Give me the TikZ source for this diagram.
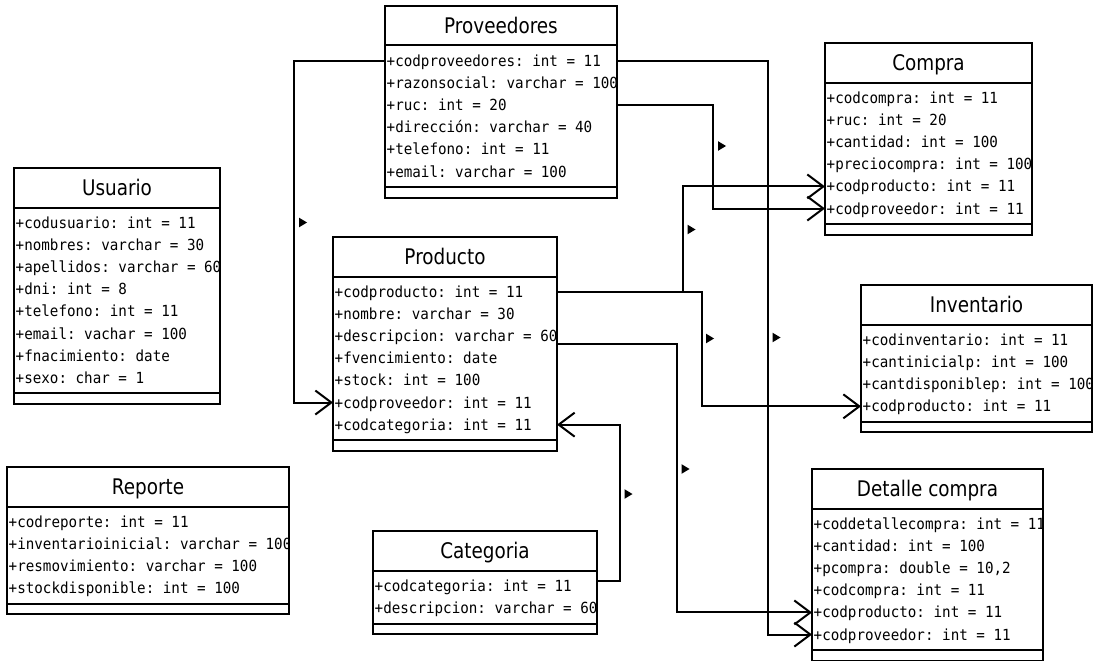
\documentclass[tikz,border=0pt]{standalone}
\usepackage{fontspec}
\newfontfamily\attrfont[FakeStretch=0.93]{DejaVu Sans Mono}
\newfontfamily\titlefont[FakeStretch=0.855]{DejaVu Sans}
\usetikzlibrary{arrows.meta}

\tikzset{
  classbox/.style={fill=white, inner sep=0pt, outer sep=0pt},
  classrule/.style={draw=black, line width=2pt},
  classtitle/.style={font=\titlefont\fontsize{21.5}{24}\selectfont, inner sep=0pt, text height=15.7pt, text depth=0pt},
  classattr/.style={font=\attrfont\fontsize{15.3}{18}\selectfont\frenchspacing, inner sep=0pt, text height=11pt, text depth=0pt, anchor=west},
  assoc/.style={draw=black, line width=2pt, -{Straight Barb[length=16pt,width=24pt]}},
  dirmark/.pic={\fill (-3.5,-4.8) -- (4.5,0) -- (-3.5,4.8) -- cycle;}
}

% \umlclass{name}{left}{top}{width}{title}{rows}{attributes}
\newcommand\umlclass[7]{%
  \pgfmathsetmacro\clsep{#3+39.5}%
  \pgfmathsetmacro\clbot{\clsep+#6*22.1+9}%
  \pgfmathsetmacro\clend{\clbot+10.5}%
  \pgfmathsetmacro\clheight{\clend-#3}%
  \node[classbox, anchor=north west, minimum width=#4pt, minimum height=\clheight pt] (#1) at (#2,#3) {};
  \node[classtitle] (#1-title) at ({#2+#4/2},{(#3+\clsep)/2}) {#5};
  \begin{scope}
    \clip (#2,#3) rectangle ({#2+#4},\clend);
    \foreach \attr [count=\k] in {#7}
      \node[classattr] (#1-\k) at ({#2+1.5},{\clsep+15.55+(\k-1)*22.1}) {\attr};
  \end{scope}
  \draw[classrule] (#1.south west) rectangle (#1.north east);
  \draw[classrule] (#2,\clsep) -- ++(#4,0);
  \draw[classrule] (#2,\clbot) -- ++(#4,0);
}

\begin{document}
\begin{tikzpicture}[x=1pt, y=-1pt, line join=miter]
  \fill[white] (0,0) rectangle (1100,661);
  \useasboundingbox (0,0) rectangle (1100,661);

  \umlclass{prov}{385}{6}{232}{Proveedores}{6}{+codproveedores: int = 11, +razonsocial: varchar = 100, +ruc: int = 20, +dirección: varchar = 40, +telefono: int = 11, +email: varchar = 100}
  \umlclass{comp}{825}{43}{207}{Compra}{6}{+codcompra: int = 11, +ruc: int = 20, +cantidad: int = 100, +preciocompra: int = 100, +codproducto: int = 11, +codproveedor: int = 11}
  \umlclass{usu}{14}{168}{206}{Usuario}{8}{+codusuario: int = 11, +nombres: varchar = 30, +apellidos: varchar = 60, +dni: int = 8, +telefono: int = 11, +email: vachar = 100, +fnacimiento: date, +sexo: char = 1}
  \umlclass{prod}{333}{237}{224}{Producto}{7}{+codproducto: int = 11, +nombre: varchar = 30, +descripcion: varchar = 60, +fvencimiento: date, +stock: int = 100, +codproveedor: int = 11, +codcategoria: int = 11}
  \umlclass{inv}{861}{285}{231}{Inventario}{4}{+codinventario: int = 11, +cantinicialp: int = 100, +cantdisponiblep: int = 100, +codproducto: int = 11}
  \umlclass{rep}{7}{467}{282}{Reporte}{4}{+codreporte: int = 11, +inventarioinicial: varchar = 100, +resmovimiento: varchar = 100, +stockdisponible: int = 100}
  \umlclass{cat}{373}{531}{224}{Categoria}{2}{+codcategoria: int = 11, +descripcion: varchar = 60}
  \umlclass{det}{812}{469}{231}{Detalle compra}{6}{+coddetallecompra: int = 11, +cantidad: int = 100, {+pcompra: double = 10,2}, +codcompra: int = 11, +codproducto: int = 11, +codproveedor: int = 11}

  % associations
  \coordinate (prod-desc) at ([yshift=-8pt]prod-3.east);
  \coordinate (cat-link) at ([yshift=5pt]cat-1.east);

  \draw[assoc] (prov-1 -| prov.west) -- ++(-91,0) |- (prod-6 -| prod.west);
  \draw[assoc] (prov-1 -| prov.east) -- ++(151,0) |- (det-6 -| det.west);
  \draw[assoc] (prov-3 -| prov.east) -- ++(96,0) |- (comp-6 -| comp.west);
  \draw[assoc] (prod-1 -| prod.east) -- ++(126,0) |- (comp-5 -| comp.west);
  \draw[assoc] (prod-1 -| prod.east) -- ++(145,0) |- (inv-4 -| inv.west);
  \draw[assoc] (prod-desc -| prod.east) -- ++(120,0) |- (det-5 -| det.west);
  \draw[assoc] (cat-link -| cat.east) -- ++(23,0) |- (prod-7 -| prod.east);

  % direction markers
  \pic at (302.5,222.5) {dirmark};
  \pic at (721.5,146) {dirmark};
  \pic at (691,229.5) {dirmark};
  \pic at (709.5,338.5) {dirmark};
  \pic at (776,337.5) {dirmark};
  \pic at (685,469) {dirmark};
  \pic at (628,494) {dirmark};
\end{tikzpicture}
\end{document}
